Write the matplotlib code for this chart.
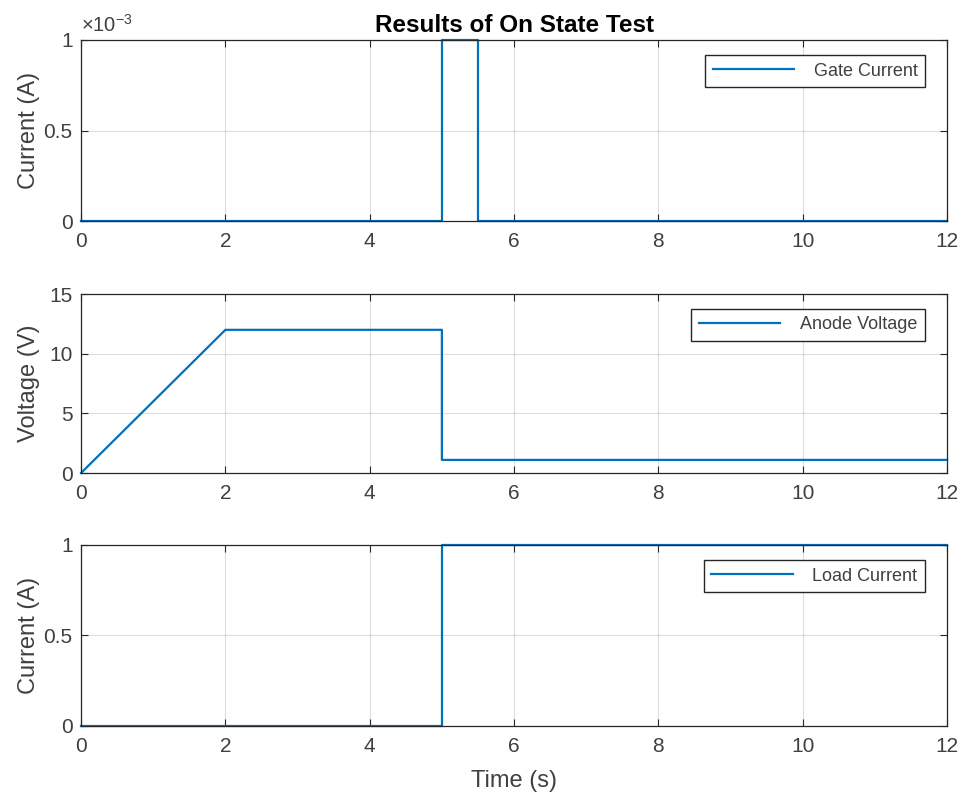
import numpy as np
import matplotlib.pyplot as plt
from matplotlib.ticker import FuncFormatter

# Time breakpoints (s) and signal values
gate_t = [0, 5, 5, 5.5, 5.5, 12]
gate_i = [0, 0, 1e-3, 1e-3, 0, 0]

anode_t = [0, 2, 5, 5, 12]
anode_v = [0, 12, 12, 1.1, 1.1]

load_t = [0, 5, 5, 12]
load_i = [0, 0, 1, 1]

x_ticks = [0, 2, 4, 6, 8, 10, 12]

plt.rcParams['font.family'] = ['Liberation Sans', 'DejaVu Sans']
plt.rcParams['font.size'] = 15
plt.rcParams['mathtext.fontset'] = 'custom'
plt.rcParams['mathtext.rm'] = 'Liberation Sans'
plt.rcParams['mathtext.it'] = 'Liberation Sans'

line_color = '#0072BD'
axis_color = '#262626'
text_color = '#404040'


def style_axes(ax):
    ax.set_xlim(0, 12)
    ax.set_xticks(x_ticks)
    ax.grid(True, color='#262626', alpha=0.15, linewidth=0.8)
    ax.tick_params(direction='in', top=True, right=True, colors=axis_color,
                   labelcolor=text_color, length=5, width=0.8, labelsize=15)
    ax.tick_params(axis='x', pad=8)
    ax.tick_params(axis='y', pad=6)
    for s in ax.spines.values():
        s.set_color(axis_color)
        s.set_linewidth(0.9)
    leg = ax.legend(loc='upper right', bbox_to_anchor=(0.9746, 0.917),
                    borderaxespad=0, fancybox=False, framealpha=1,
                    edgecolor=axis_color, handlelength=4.5, handletextpad=1.1,
                    fontsize=13, borderpad=0.42)
    leg.get_frame().set_linewidth(1.0)
    for t in leg.get_texts():
        t.set_color(text_color)


fig = plt.figure(figsize=(9.66, 7.99), dpi=100)
left, width = 0.0839, 0.8965
ax1 = fig.add_axes([left, 0.723, width, 0.227])
ax2 = fig.add_axes([left, 0.408, width, 0.224])
ax3 = fig.add_axes([left, 0.0914, width, 0.2266])

ax1.plot(gate_t, gate_i, color=line_color, linewidth=1.6, label='Gate Current',
         clip_on=False)
ax1.set_ylim(0, 1e-3)
ax1.set_yticks([0, 0.5e-3, 1e-3])
ax1.yaxis.set_major_formatter(FuncFormatter(lambda v, p: '%g' % round(v * 1e3, 6)))
ax1.set_ylabel('Current (A)', color=text_color, fontsize=17)
ax1.set_title('Results of On State Test', fontweight='bold', color='black',
              fontsize=17.5, pad=6)
ax1.text(0.0, 1.044, r'$\times10^{-3}$', transform=ax1.transAxes,
         color=text_color, fontsize=14.5, va='baseline', ha='left')
style_axes(ax1)

ax2.plot(anode_t, anode_v, color=line_color, linewidth=1.6, label='Anode Voltage',
         clip_on=False)
ax2.set_ylim(0, 15)
ax2.set_yticks([0, 5, 10, 15])
ax2.set_ylabel('Voltage (V)', color=text_color, fontsize=17)
style_axes(ax2)

ax3.plot(load_t, load_i, color=line_color, linewidth=1.6, label='Load Current',
         clip_on=False)
ax3.set_ylim(0, 1)
ax3.set_yticks([0, 0.5, 1])
ax3.yaxis.set_major_formatter(FuncFormatter(lambda v, p: '%g' % v))
ax3.set_ylabel('Current (A)', color=text_color, fontsize=17)
ax3.set_xlabel('Time (s)', color=text_color, fontsize=17)
ax3.xaxis.set_label_coords(0.5, -0.245)
style_axes(ax3)

for ax in (ax1, ax2, ax3):
    ax.yaxis.set_label_coords(-0.047, 0.5)

fig.savefig('out.png', dpi=100)
